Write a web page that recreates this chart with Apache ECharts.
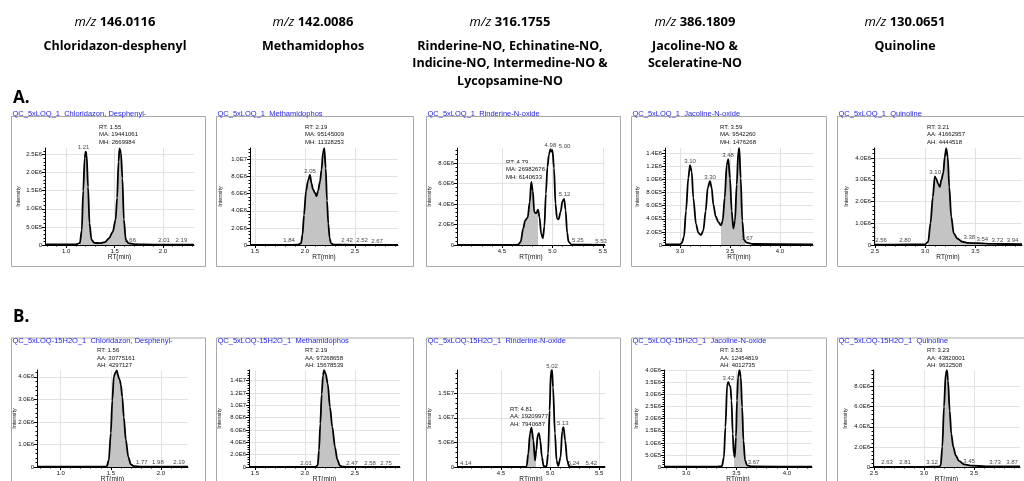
<!DOCTYPE html>
<html>
<head>
<meta charset="utf-8">
<script src="https://cdn.jsdelivr.net/npm/echarts@6/dist/echarts.min.js"></script>
<style>
html, body { margin: 0; background: #fff; }
#main { width: 1024px; height: 481px; }
</style>
</head>
<body>
<div id="main"></div>
<script>
// header texts
var mzValues = ['146.0116', '142.0086', '316.1755', '386.1809', '130.0651'];
var compounds = ['Chloridazon-desphenyl', 'Methamidophos',
    'Rinderine-NO, Echinatine-NO,\nIndicine-NO, Intermedine-NO &\nLycopsamine-NO',
    'Jacoline-NO &\nSceleratine-NO', 'Quinoline'];
var traceTitles = ['Chloridazon, Desphenyl-', 'Methamidophos', 'Rinderine-N-oxide', 'Jacoline-N-oxide', 'Quinoline'];
var sampleNames = ['QC_5xLOQ_1', 'QC_5xLOQ-15H2O_1'];
var rowLetters = ['A.', 'B.'];

// A1 chloridazon-desphenyl
var a1Rt = [0.78, 1.0, 1.10, 1.14, 1.16, 1.175, 1.19, 1.20, 1.21, 1.225, 1.24, 1.26, 1.29, 1.35, 1.40, 1.44, 1.48, 1.51, 1.525, 1.54, 1.55, 1.565, 1.58, 1.595, 1.615, 1.64, 1.70, 1.80, 2.0, 2.32];
var a1Int = [1.5e4, 1.5e4, 2e4, 5e4, 4e5, 1.5e6, 2.4e6, 2.58e6, 2.5e6, 1.6e6, 6e5, 1.5e5, 6e4, 5e4, 8e4, 1.8e5, 3.6e5, 7e5, 1.3e6, 2.3e6, 2.67e6, 2.55e6, 1.85e6, 7e5, 1.5e5, 5e4, 2.5e4, 1.5e4, 1e4, 1e4];
var a1Shade = [1.14, 1.70];
var a1PeakRt = [1.21, 1.66, 2.01, 2.19];
var a1PeakInt = [2.58e6, 3e4, 1e4, 1e4];
var a1Info = ['RT: 1.55', 'MA: 19441061', 'MH: 2669984'];
var a1XTicks = [1.0, 1.5, 2.0];
var a1YTicks = [0, 5e5, 1e6, 1.5e6, 2e6, 2.5e6];

// A2 methamidophos
var a2Rt = [1.46, 1.80, 1.93, 1.96, 1.975, 1.99, 2.01, 2.03, 2.05, 2.065, 2.08, 2.10, 2.115, 2.13, 2.15, 2.165, 2.18, 2.193, 2.207, 2.22, 2.233, 2.247, 2.26, 2.29, 2.50, 2.93];
var a2Int = [2e4, 2e4, 3e4, 2e5, 1.2e6, 3.5e6, 6.3e6, 7.5e6, 8.2e6, 7.2e6, 6.5e6, 6.1e6, 5.7e6, 6.3e6, 7.4e6, 8.8e6, 1.08e7, 1.133e7, 9.0e6, 5.2e6, 2.5e6, 7.7e5, 2e5, 4e4, 2e4, 1e4];
var a2Shade = [1.96, 2.28];
var a2PeakRt = [2.05, 1.84, 2.42, 2.52, 2.67];
var a2PeakInt = [8.2e6, 2e4, 2e4, 2e4, 1e4];
var a2Info = ['RT: 2.19', 'MA: 95145009', 'MH: 11328253'];
var a2XTicks = [1.5, 2.0, 2.5];
var a2YTicks = [0, 2e6, 4e6, 6e6, 8e6, 1e7];

// A3 rinderine-N-oxide
var a3Rt = [4.055, 4.60, 4.66, 4.685, 4.71, 4.73, 4.755, 4.775, 4.79, 4.805, 4.82, 4.84, 4.857, 4.872, 4.888, 4.905, 4.92, 4.935, 4.95, 4.965, 4.98, 4.99, 5.00, 5.015, 5.03, 5.045, 5.06, 5.08, 5.10, 5.115, 5.13, 5.145, 5.16, 5.19, 5.52];
var a3Int = [1e4, 1e4, 3e4, 3e5, 1.6e6, 2.4e6, 2.7e6, 4.2e6, 6.15e6, 5.3e6, 3.2e6, 3.1e6, 3.45e6, 2.7e6, 1.1e6, 6.5e5, 1.8e6, 5.0e6, 7.6e6, 8.8e6, 9.35e6, 9.1e6, 9.25e6, 7.5e6, 4e6, 2.6e6, 2.5e6, 3.2e6, 4.3e6, 4.5e6, 3.4e6, 1.2e6, 3e5, 3e4, 1e4];
var a3Shade = [4.66, 4.855];
var a3PeakRt = [4.98, 5.00, 5.12, 5.25, 5.53];
var a3PeakInt = [9.35e6, 9.25e6, 4.5e6, 2e4, 1e4];
var a3Info = ['RT: 4.79', 'MA: 26982676', 'MH: 6140633'];
var a3XTicks = [4.5, 5.0, 5.5];
var a3YTicks = [0, 2e6, 4e6, 6e6, 8e6];

// A4 jacoline-N-oxide
var a4Rt = [2.85, 3.00, 3.017, 3.04, 3.06, 3.083, 3.10, 3.117, 3.133, 3.16, 3.183, 3.21, 3.233, 3.257, 3.277, 3.30, 3.317, 3.333, 3.357, 3.383, 3.41, 3.427, 3.447, 3.467, 3.483, 3.50, 3.517, 3.533, 3.55, 3.567, 3.583, 3.593, 3.607, 3.623, 3.64, 3.667, 3.73, 4.33];
var a4Int = [1e4, 1e4, 3e4, 1.25e5, 5.2e5, 1.02e6, 1.22e6, 1.12e6, 7.2e5, 3.2e5, 1.85e5, 1.5e5, 2.2e5, 5.2e5, 8.7e5, 9.75e5, 8.7e5, 6.2e5, 4.35e5, 3.5e5, 3.0e5, 3.7e5, 7.2e5, 1.22e6, 1.31e6, 1.02e6, 5.2e5, 2.5e5, 3.7e5, 9.2e5, 1.43e6, 1.476e6, 1.02e6, 3.7e5, 7.5e4, 3.5e4, 1.5e4, 1e4];
var a4Shade = [3.41, 3.65];
var a4PeakRt = [3.10, 3.30, 3.48, 3.67];
var a4PeakInt = [1.22e6, 9.75e5, 1.31e6, 3.5e4];
var a4Info = ['RT: 3.59', 'MA: 9542260', 'MH: 1476268'];
var a4XTicks = [3.0, 3.5, 4.0];
var a4YTicks = [0, 2e5, 4e5, 6e5, 8e5, 1e6, 1.2e6, 1.4e6];

// A5 quinoline
var a5Rt = [2.49, 2.70, 3.00, 3.03, 3.053, 3.076, 3.096, 3.11, 3.13, 3.146, 3.16, 3.18, 3.195, 3.21, 3.225, 3.24, 3.26, 3.285, 3.32, 3.37, 3.43, 3.53, 3.66, 3.965];
var a5Int = [2e4, 2e4, 3e4, 1.5e5, 1.0e6, 2.2e6, 3.15e6, 3.05e6, 2.8e6, 2.67e6, 2.98e6, 3.3e6, 4.05e6, 4.44e6, 4.05e6, 2.67e6, 1.3e6, 5.3e5, 3e5, 1.5e5, 1e5, 8e4, 5e4, 4e4];
var a5Shade = [3.03, 3.50];
var a5PeakRt = [3.10, 2.56, 2.80, 3.38, 3.54, 3.72, 3.94];
var a5PeakInt = [3.15e6, 2e4, 2e4, 1.5e5, 8e4, 5e4, 4e4];
var a5Info = ['RT: 3.21', 'AA: 41662957', 'AH: 4444518'];
var a5XTicks = [2.5, 3.0, 3.5];
var a5YTicks = [0, 1e6, 2e6, 3e6, 4e6];

// B1 chloridazon-desphenyl
var b1Rt = [0.764, 1.40, 1.46, 1.48, 1.50, 1.515, 1.53, 1.545, 1.56, 1.57, 1.58, 1.59, 1.60, 1.615, 1.63, 1.65, 1.675, 1.70, 1.73, 1.80, 2.27];
var b1Int = [1e4, 1e4, 3e4, 3e5, 1.5e6, 2.95e6, 4.0e6, 4.18e6, 4.28e6, 4.1e6, 3.95e6, 3.85e6, 3.65e6, 3.1e6, 2.2e6, 1.2e6, 4.4e5, 1.2e5, 4e4, 1.5e4, 1e4];
var b1Shade = [1.47, 1.72];
var b1PeakRt = [1.77, 1.98, 2.19];
var b1PeakInt = [1.5e4, 1e4, 1e4];
var b1Info = ['RT: 1.56', 'AA: 30775161', 'AH: 4297127'];
var b1XTicks = [1.0, 1.5, 2.0];
var b1YTicks = [0, 1e6, 2e6, 3e6, 4e6];

// B2 methamidophos
var b2Rt = [1.44, 1.90, 2.10, 2.127, 2.14, 2.153, 2.167, 2.18, 2.19, 2.207, 2.227, 2.25, 2.273, 2.30, 2.323, 2.35, 2.38, 2.50, 2.95];
var b2Int = [1e4, 1e4, 2e4, 2.7e5, 2.7e6, 7e6, 1.18e7, 1.48e7, 1.567e7, 1.51e7, 1.35e7, 9.7e6, 6.5e6, 3.2e6, 1.2e6, 2e5, 4e4, 2e4, 1e4];
var b2Shade = [2.12, 2.38];
var b2PeakRt = [2.01, 2.47, 2.58, 2.75];
var b2PeakInt = [1e4, 2e4, 1e4, 1e4];
var b2Info = ['RT: 2.19', 'AA: 97268658', 'AH: 15678539'];
var b2XTicks = [1.5, 2.0, 2.5];
var b2YTicks = [0, 2e6, 4e6, 6e6, 8e6, 1e7, 1.2e7, 1.4e7];

// B3 rinderine-N-oxide
var b3Rt = [4.051, 4.70, 4.76, 4.778, 4.795, 4.81, 4.83, 4.846, 4.86, 4.873, 4.886, 4.90, 4.917, 4.934, 4.964, 4.98, 4.995, 5.008, 5.02, 5.03, 5.05, 5.066, 5.083, 5.107, 5.124, 5.137, 5.154, 5.174, 5.195, 5.25, 5.56];
var b3Int = [1e4, 1e4, 3e4, 2.7e6, 6.8e6, 8.0e6, 5.4e6, 1.35e6, 3.4e6, 6.4e6, 6.9e6, 5.4e6, 2e6, 2e5, 1e5, 2.7e6, 1.15e7, 1.93e7, 1.97e7, 1.62e7, 6.8e6, 1.35e6, 2e5, 2e6, 7.4e6, 8.1e6, 5.4e6, 1.35e6, 1e5, 2e4, 1e4];
var b3Shade = [4.77, 4.855];
var b3PeakRt = [5.02, 5.13, 4.14, 5.24, 5.42];
var b3PeakInt = [1.97e7, 8.1e6, 1e4, 2e4, 1e4];
var b3Info = ['RT: 4.81', 'AA: 19209977', 'AH: 7940687'];
var b3XTicks = [4.5, 5.0, 5.5];
var b3YTicks = [0, 5e6, 1e7, 1.5e7];

// B4 jacoline-N-oxide
var b4Rt = [2.78, 3.30, 3.355, 3.375, 3.39, 3.408, 3.42, 3.43, 3.44, 3.45, 3.463, 3.473, 3.483, 3.495, 3.505, 3.515, 3.53, 3.543, 3.556, 3.569, 3.585, 3.605, 3.65, 4.25];
var b4Int = [1e4, 1e4, 3e4, 4e5, 1.65e6, 3.45e6, 3.52e6, 3.38e6, 3.34e6, 2.76e6, 1.38e6, 5.5e5, 4.1e5, 1.24e6, 2.76e6, 3.72e6, 4.01e6, 3.72e6, 2.48e6, 1.1e6, 2.8e5, 7e4, 2e4, 1e4];
var b4Shade = [3.478, 3.61];
var b4PeakRt = [3.42, 3.67];
var b4PeakInt = [3.52e6, 2e4];
var b4Info = ['RT: 3.53', 'AA: 12454819', 'AH: 4012735'];
var b4XTicks = [3.0, 3.5, 4.0];
var b4YTicks = [0, 5e5, 1e6, 1.5e6, 2e6, 2.5e6, 3e6, 3.5e6, 4e6];

// B5 quinoline
var b5Rt = [2.49, 3.00, 3.15, 3.167, 3.183, 3.20, 3.217, 3.23, 3.24, 3.257, 3.273, 3.293, 3.317, 3.35, 3.40, 3.483, 3.617, 3.96];
var b5Int = [2e4, 2e4, 3e4, 1.6e5, 2e6, 6e6, 9.26e6, 9.63e6, 8.6e6, 5.6e6, 3.3e6, 2e6, 1.16e6, 6e5, 2.6e5, 1.3e5, 7e4, 5e4];
var b5Shade = [3.17, 3.55];
var b5PeakRt = [2.63, 2.81, 3.12, 3.45, 3.73, 3.87];
var b5PeakInt = [2e4, 2e4, 3e4, 1.3e5, 6e4, 5e4];
var b5Info = ['RT: 3.23', 'AA: 43820001', 'AH: 9632508'];
var b5XTicks = [2.5, 3.0, 3.5];
var b5YTicks = [0, 2e6, 4e6, 6e6, 8e6];

// layout
var F = '"Liberation Sans", Arial, sans-serif';
var HF = '"Open Sans", "Noto Sans", sans-serif';
var colX = [115, 313, 510, 695, 905];
var frameL = [11, 216, 426, 631, 837];
var frameR = [205, 413, 620, 826, 1030];
var rowTop = [148, 370];
var frameTop = [116, 337.5];
var titleY = [113.5, 341];

var panels = [
    { rt: a1Rt, y: a1Int, shade: a1Shade, pk: a1PeakRt, ph: a1PeakInt, info: a1Info, xt: a1XTicks, yt: a1YTicks,
      row: 0, col: 0, left: 45, width: 149, xMin: 0.78, xMax: 2.32, yMax: 2.68e6, infoPos: [99, 123.5], nameGap: 24, lblDx: [-3, 0, 0, 0] },
    { rt: a2Rt, y: a2Int, shade: a2Shade, pk: a2PeakRt, ph: a2PeakInt, info: a2Info, xt: a2XTicks, yt: a2YTicks,
      row: 0, col: 1, left: 250, width: 148, xMin: 1.45, xMax: 2.93, yMax: 1.135e7, infoPos: [305, 123.5], nameGap: 27, lblDx: [0, 0, 0, 5, 5] },
    { rt: a3Rt, y: a3Int, shade: a3Shade, pk: a3PeakRt, ph: a3PeakInt, info: a3Info, xt: a3XTicks, yt: a3YTicks,
      row: 0, col: 2, left: 457, width: 148, xMin: 4.055, xMax: 5.52, yMax: 9.45e6, infoPos: [506, 158.5], nameGap: 25, lblDx: [0, 12, 0, 0, -5] },
    { rt: a4Rt, y: a4Int, shade: a4Shade, pk: a4PeakRt, ph: a4PeakInt, info: a4Info, xt: a4XTicks, yt: a4YTicks,
      row: 0, col: 3, left: 665, width: 148, xMin: 2.85, xMax: 4.33, yMax: 1.48e6, infoPos: [720, 123.5], nameGap: 25, lblDx: [0, 0, 0, 0] },
    { rt: a5Rt, y: a5Int, shade: a5Shade, pk: a5PeakRt, ph: a5PeakInt, info: a5Info, xt: a5XTicks, yt: a5YTicks,
      row: 0, col: 4, left: 874, width: 148, xMin: 2.49, xMax: 3.965, yMax: 4.46e6, infoPos: [927, 123.5], nameGap: 25, lblDx: [0, 0, 0, 6, 3, 0, -7] },
    { rt: b1Rt, y: b1Int, shade: b1Shade, pk: b1PeakRt, ph: b1PeakInt, info: b1Info, xt: b1XTicks, yt: b1YTicks,
      row: 1, col: 0, left: 37, width: 151, xMin: 0.764, xMax: 2.27, yMax: 4.3e6, infoPos: [97, 347], nameGap: 20, lblDx: [4, -1, -1] },
    { rt: b2Rt, y: b2Int, shade: b2Shade, pk: b2PeakRt, ph: b2PeakInt, info: b2Info, xt: b2XTicks, yt: b2YTicks,
      row: 1, col: 1, left: 249, width: 151, xMin: 1.44, xMax: 2.95, yMax: 1.57e7, infoPos: [305, 347], nameGap: 27, lblDx: [0, 0, 7, 6] },
    { rt: b3Rt, y: b3Int, shade: b3Shade, pk: b3PeakRt, ph: b3PeakInt, info: b3Info, xt: b3XTicks, yt: b3YTicks,
      row: 1, col: 2, left: 457, width: 148, xMin: 4.051, xMax: 5.56, yMax: 1.97e7, infoPos: [510, 405.5], nameGap: 25, lblDx: [0, 0, 0, 0, 0] },
    { rt: b4Rt, y: b4Int, shade: b4Shade, pk: b4PeakRt, ph: b4PeakInt, info: b4Info, xt: b4XTicks, yt: b4YTicks,
      row: 1, col: 3, left: 664, width: 148, xMin: 2.78, xMax: 4.25, yMax: 4.02e6, infoPos: [720, 347], nameGap: 25, lblDx: [0, 0] },
    { rt: b5Rt, y: b5Int, shade: b5Shade, pk: b5PeakRt, ph: b5PeakInt, info: b5Info, xt: b5XTicks, yt: b5YTicks,
      row: 1, col: 4, left: 873, width: 147, xMin: 2.49, xMax: 3.96, yMax: 9.65e6, infoPos: [927, 347], nameGap: 25, lblDx: [0, 0, -4, 0, -2, 1] }
];

function fmtY(v) {
    return v === 0 ? '0' : v.toExponential(1).replace('e+', 'E');
}

var grids = [], xAxes = [], yAxes = [], series = [], visualMaps = [], graphics = [];

// column headers
colX.forEach(function (cx, c) {
    graphics.push({
        type: 'text', x: cx, y: 22, silent: true,
        style: {
            text: '{i|m/z} ' + mzValues[c],
            rich: { i: { fontStyle: 'italic', fontWeight: 'normal', fontSize: 13, fontFamily: HF, fill: '#000' } },
            fontSize: 13, fontWeight: 'bold', fontFamily: HF, fill: '#000',
            align: 'center', verticalAlign: 'middle'
        }
    });
    graphics.push({
        type: 'text', x: cx, y: 37.3, silent: true,
        style: {
            text: compounds[c], fontSize: 12.5, fontWeight: 'bold', fontFamily: HF, fill: '#000',
            lineHeight: 17.5, align: 'center', verticalAlign: 'top'
        }
    });
});
graphics.push({ type: 'text', x: 13, y: 98, silent: true,
    style: { text: rowLetters[0], fontSize: 17, fontWeight: 'bold', fontFamily: HF, fill: '#000', verticalAlign: 'middle' } });
graphics.push({ type: 'text', x: 13, y: 317, silent: true,
    style: { text: rowLetters[1], fontSize: 17, fontWeight: 'bold', fontFamily: HF, fill: '#000', verticalAlign: 'middle' } });

panels.forEach(function (p, k) {
    var ft = frameTop[p.row];
    graphics.push({
        type: 'rect', silent: true,
        shape: { x: frameL[p.col] + 0.5, y: ft + 0.5, width: frameR[p.col] - frameL[p.col], height: p.row === 0 ? 266 - ft : 200 },
        style: { fill: 'none', stroke: '#a9a9a9', lineWidth: 1 }
    });
    graphics.push({
        type: 'text', x: frameL[p.col] + 1.5, y: titleY[p.row], silent: true,
        style: { text: sampleNames[p.row] + '  ' + traceTitles[p.col], fontSize: 7.5, fontFamily: F, fill: '#1f1fe0', verticalAlign: 'middle' }
    });
    graphics.push({
        type: 'text', x: p.infoPos[0], y: p.infoPos[1], silent: true,
        style: { text: p.info.join('\n'), fontSize: 6, fontFamily: F, fill: '#111', lineHeight: 7.5, verticalAlign: 'top' }
    });

    grids.push({ left: p.left, top: rowTop[p.row], width: p.width, height: 97, containLabel: false, outerBoundsMode: 'none' });

    xAxes.push({
        gridIndex: k, type: 'value', min: p.xMin, max: p.xMax,
        splitNumber: Math.max(1, Math.round((p.xMax - p.xMin) / (p.xt[1] - p.xt[0]))),
        axisLine: { show: true, onZero: false, lineStyle: { color: '#000', width: 1 } },
        axisTick: { show: true, customValues: p.xt, length: 3, lineStyle: { color: '#000' } },
        minorTick: { show: true, splitNumber: 5, length: 1.5, lineStyle: { color: '#000' } },
        axisLabel: { customValues: p.xt, fontSize: 6, margin: 3, color: '#111', fontFamily: F,
            formatter: function (v) { return v.toFixed(1); } },
        splitLine: { show: true, lineStyle: { color: '#e2e2e2', width: 1 } },
        name: 'RT(min)', nameLocation: 'middle', nameGap: 9, nameMoveOverlap: false,
        nameTextStyle: { fontSize: 6.5, color: '#111', fontFamily: F }
    });
    yAxes.push({
        gridIndex: k, type: 'value', min: 0, max: p.yMax,
        splitNumber: Math.max(1, Math.round(p.yMax / (p.yt[1] - p.yt[0]))),
        axisLine: { show: true, lineStyle: { color: '#000', width: 1 } },
        axisTick: { show: true, customValues: p.yt, length: 3, lineStyle: { color: '#000' } },
        minorTick: { show: true, splitNumber: 5, length: 1.5, lineStyle: { color: '#000' } },
        axisLabel: { customValues: p.yt, fontSize: 6, margin: 3, color: '#111', fontFamily: F, formatter: fmtY },
        splitLine: { show: true, lineStyle: { color: '#e2e2e2', width: 1 } },
        name: 'Intensity', nameLocation: 'middle', nameRotate: 90, nameGap: p.nameGap, nameMoveOverlap: false,
        nameTextStyle: { fontSize: 5.5, color: '#111', fontFamily: F }
    });

    var pts = p.rt.map(function (t, i) { return [t, p.y[i]]; });
    // shaded (integrated) part, coloured through a visualMap along RT
    series.push({
        type: 'line', xAxisIndex: k, yAxisIndex: k, data: pts, smooth: 0.3, smoothMonotone: 'x',
        showSymbol: false, silent: true, z: 1,
        lineStyle: { width: 0, opacity: 0 }, areaStyle: { opacity: 1, origin: 'start' }
    });
    series.push({
        type: 'line', xAxisIndex: k, yAxisIndex: k, data: pts, smooth: 0.3, smoothMonotone: 'x',
        showSymbol: false, silent: true, z: 3,
        lineStyle: { color: '#000', width: 1.8 }
    });
    series.push({
        type: 'scatter', xAxisIndex: k, yAxisIndex: k, symbolSize: 0, clip: false, silent: true, z: 4,
        data: p.pk.map(function (t, i) {
            return { value: [t, p.ph[i]], label: { offset: [p.lblDx[i] || 0, 0] } };
        }),
        label: { show: true, position: 'top', distance: 1, fontSize: 6, color: '#111', fontFamily: F,
            formatter: function (d) { return d.value[0].toFixed(2); } }
    });
    visualMaps.push({
        type: 'piecewise', show: false, seriesIndex: 3 * k, dimension: 0,
        pieces: [{ gte: p.shade[0], lte: p.shade[1], color: '#c4c4c4' }],
        outOfRange: { color: 'rgba(255,255,255,0)' }
    });
});

var myChart = echarts.init(document.getElementById('main'));
myChart.setOption({
    animation: false,
    backgroundColor: '#fff',
    grid: grids,
    xAxis: xAxes,
    yAxis: yAxes,
    visualMap: visualMaps,
    series: series,
    graphic: graphics
});
</script>
</body>
</html>
